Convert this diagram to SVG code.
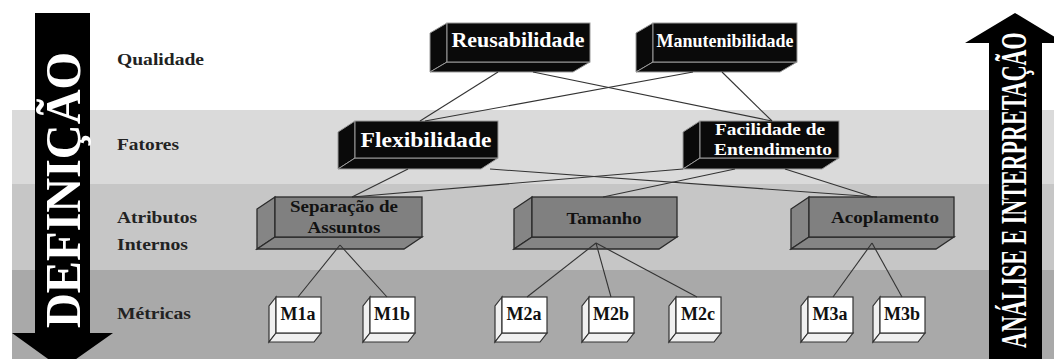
<svg xmlns="http://www.w3.org/2000/svg" width="1054" height="359" viewBox="0 0 1054 359">
<style>
.lbl{font-family:"Liberation Serif","Times New Roman",serif;font-weight:bold;font-size:17px;fill:#222}
.bt{font-family:"Liberation Serif","Times New Roman",serif;font-weight:bold;fill:#fff;text-anchor:middle}
.gt{font-family:"Liberation Serif","Times New Roman",serif;font-weight:bold;font-size:17px;fill:#111;text-anchor:middle}
.mt{font-family:"Liberation Serif","Times New Roman",serif;font-weight:bold;font-size:18px;fill:#111;text-anchor:middle}
.bf{fill:#0a0a0a;stroke:#9a9a9a;stroke-width:1}
.gf{fill:#808080;stroke:#2a2a2a;stroke-width:1.3}
.gs{fill:#858585;stroke:#2a2a2a;stroke-width:1.3}
.wf{fill:#ffffff;stroke:#333;stroke-width:1.2}
.ws{fill:#f0f0f0;stroke:#333;stroke-width:1.2}
.con line{stroke:#333;stroke-width:1.1}
.arr{fill:#000}
.at{font-family:"Liberation Serif","Times New Roman",serif;font-weight:bold;fill:#fff}
</style>
<g id="bands">
<rect x="0" y="0" width="1054" height="359" fill="#ffffff"/>
<rect x="12" y="110" width="1042" height="74" fill="#dadada"/>
<rect x="12" y="184" width="1042" height="86" fill="#c6c6c6"/>
<rect x="12" y="270" width="1042" height="89" fill="#a9a9a9"/>
</g>
<g id="labels">
<text class="lbl" x="117" y="65" textLength="87" lengthAdjust="spacingAndGlyphs">Qualidade</text>
<text class="lbl" x="117" y="150" textLength="62" lengthAdjust="spacingAndGlyphs">Fatores</text>
<text class="lbl" x="117" y="223" textLength="80" lengthAdjust="spacingAndGlyphs">Atributos</text>
<text class="lbl" x="117" y="250" textLength="71" lengthAdjust="spacingAndGlyphs">Internos</text>
<text class="lbl" x="117" y="319" textLength="74" lengthAdjust="spacingAndGlyphs">Métricas</text>
</g>
<g id="arrow-definicao">
<polygon class="arr" points="35,13 90,13 90,333 113,333 62,369 12,333 35,333"/>
<text class="at" font-size="50" transform="translate(80,328) rotate(-90) scale(0.965,1)">DEFINIÇÃO</text>
</g>
<g id="arrow-analise">
<polygon class="arr" points="1015,13 1065,43 1042,43 1042,359 989,359 989,43 965,43"/>
<text class="at" font-size="35" transform="translate(1026,348) rotate(-90) scale(0.63,1)">ANÁLISE E INTERPRETAÇÃO</text>
</g>
<g id="reusabilidade">
<polygon class="bf" points="447,23 430,33 430,72 447,62"/>
<polygon class="bf" points="447,62 430,72 573,72 590,62"/>
<rect class="bf" x="447" y="23" width="143" height="39"/>
<text class="bt" x="518" y="47" font-size="22" textLength="133" lengthAdjust="spacingAndGlyphs">Reusabilidade</text>
</g>
<g id="manutenibilidade">
<polygon class="bf" points="653,23 636,33 636,72 653,62"/>
<polygon class="bf" points="653,62 636,72 780,72 797,62"/>
<rect class="bf" x="653" y="23" width="144" height="39"/>
<text class="bt" x="725" y="47" font-size="19" textLength="137" lengthAdjust="spacingAndGlyphs">Manutenibilidade</text>
</g>
<g id="flexibilidade">
<polygon class="bf" points="355,121 338,132 338,169 355,158"/>
<polygon class="bf" points="355,158 338,169 481,169 498,158"/>
<rect class="bf" x="355" y="121" width="143" height="37"/>
<text class="bt" x="426" y="147" font-size="22" textLength="131" lengthAdjust="spacingAndGlyphs">Flexibilidade</text>
</g>
<g id="facilidade">
<polygon class="bf" points="700,121 683,132 683,169 700,158"/>
<polygon class="bf" points="700,158 683,169 822,169 839,158"/>
<rect class="bf" x="700" y="121" width="139" height="37"/>
<text class="bt" x="770" y="135" font-size="16" textLength="110" lengthAdjust="spacingAndGlyphs">Facilidade de</text>
<text class="bt" x="773" y="155" font-size="16" textLength="118" lengthAdjust="spacingAndGlyphs">Entendimento</text>
</g>
<g id="separacao">
<polygon class="gs" points="275,197 257,209 257,249 275,237"/>
<polygon class="gs" points="275,237 257,249 404,249 422,237"/>
<rect class="gf" x="275" y="197" width="147" height="40"/>
<text class="gt" x="344" y="212" textLength="108" lengthAdjust="spacingAndGlyphs">Separação de</text>
<text class="gt" x="344" y="233" textLength="73" lengthAdjust="spacingAndGlyphs">Assuntos</text>
</g>
<g id="tamanho">
<polygon class="gs" points="532,197 514,209 514,249 532,237"/>
<polygon class="gs" points="532,237 514,249 659,249 677,237"/>
<rect class="gf" x="532" y="197" width="145" height="40"/>
<text class="gt" x="604" y="224" textLength="75" lengthAdjust="spacingAndGlyphs">Tamanho</text>
</g>
<g id="acoplamento">
<polygon class="gs" points="809,197 791,209 791,249 809,237"/>
<polygon class="gs" points="809,237 791,249 936,249 954,237"/>
<rect class="gf" x="809" y="197" width="145" height="40"/>
<text class="gt" x="885" y="223" textLength="108" lengthAdjust="spacingAndGlyphs">Acoplamento</text>
</g>
<g id="m1a">
<polygon class="ws" points="276,297 269,306 269,342 276,333"/>
<polygon class="ws" points="276,333 269,342 314,342 321,333"/>
<rect class="wf" x="276" y="297" width="45" height="36"/>
<text class="mt" x="298" y="320">M1a</text>
</g>
<g id="m1b">
<polygon class="ws" points="370,297 363,306 363,342 370,333"/>
<polygon class="ws" points="370,333 363,342 408,342 415,333"/>
<rect class="wf" x="370" y="297" width="45" height="36"/>
<text class="mt" x="392" y="320">M1b</text>
</g>
<g id="m2a">
<polygon class="ws" points="502,297 495,306 495,342 502,333"/>
<polygon class="ws" points="502,333 495,342 540,342 547,333"/>
<rect class="wf" x="502" y="297" width="45" height="36"/>
<text class="mt" x="524" y="320">M2a</text>
</g>
<g id="m2b">
<polygon class="ws" points="589,297 582,306 582,342 589,333"/>
<polygon class="ws" points="589,333 582,342 627,342 634,333"/>
<rect class="wf" x="589" y="297" width="45" height="36"/>
<text class="mt" x="611" y="320">M2b</text>
</g>
<g id="m2c">
<polygon class="ws" points="676,297 669,306 669,342 676,333"/>
<polygon class="ws" points="676,333 669,342 714,342 721,333"/>
<rect class="wf" x="676" y="297" width="45" height="36"/>
<text class="mt" x="698" y="320">M2c</text>
</g>
<g id="m3a">
<polygon class="ws" points="808,297 801,306 801,342 808,333"/>
<polygon class="ws" points="808,333 801,342 846,342 853,333"/>
<rect class="wf" x="808" y="297" width="45" height="36"/>
<text class="mt" x="830" y="320">M3a</text>
</g>
<g id="m3b">
<polygon class="ws" points="880,297 873,306 873,342 880,333"/>
<polygon class="ws" points="880,333 873,342 918,342 925,333"/>
<rect class="wf" x="880" y="297" width="45" height="36"/>
<text class="mt" x="902" y="320">M3b</text>
</g>
<g id="connectors" class="con">
<line x1="498" y1="72" x2="420" y2="121"/>
<line x1="533" y1="72" x2="772" y2="121"/>
<line x1="693" y1="72" x2="425" y2="121"/>
<line x1="722" y1="72" x2="772" y2="121"/>
<line x1="408" y1="169" x2="352" y2="197"/>
<line x1="490" y1="169" x2="877" y2="197"/>
<line x1="683" y1="169" x2="352" y2="197"/>
<line x1="735" y1="169" x2="603" y2="197"/>
<line x1="785" y1="169" x2="873" y2="197"/>
<line x1="340" y1="245" x2="298" y2="297"/>
<line x1="340" y1="245" x2="387" y2="297"/>
<line x1="596" y1="243" x2="527" y2="297"/>
<line x1="596" y1="243" x2="611" y2="297"/>
<line x1="596" y1="243" x2="697" y2="297"/>
<line x1="872" y1="243" x2="833" y2="297"/>
<line x1="872" y1="243" x2="902" y2="297"/>
</g>
</svg>
